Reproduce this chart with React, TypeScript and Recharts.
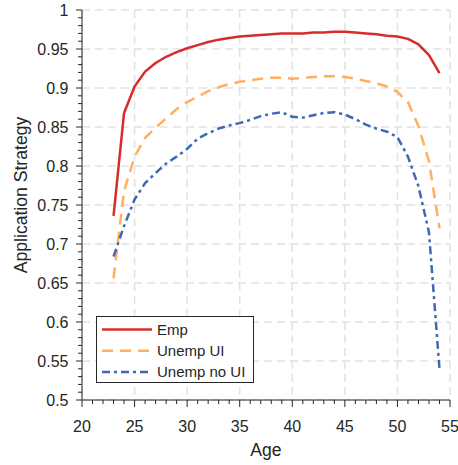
import { CartesianGrid, Legend, Line, LineChart, XAxis, YAxis } from "recharts";

const ages = [
  23, 24, 25, 26, 27, 28, 29, 30, 31, 32, 33, 34, 35, 36, 37, 38, 39, 40, 41, 42, 43, 44, 45, 46, 47, 48,
  49, 50, 51, 52, 53, 54,
];

const empRate = [
  0.736, 0.868, 0.902, 0.921, 0.932, 0.94, 0.946, 0.951, 0.955, 0.959, 0.962, 0.964, 0.966, 0.967, 0.968,
  0.969, 0.97, 0.97, 0.97, 0.971, 0.971, 0.972, 0.972, 0.971, 0.97, 0.969, 0.967, 0.966, 0.963, 0.956,
  0.942, 0.919,
];

const uiRate = [
  0.656, 0.768, 0.812, 0.836, 0.849, 0.861, 0.873, 0.882, 0.889, 0.896, 0.901, 0.905, 0.908, 0.91, 0.912,
  0.913, 0.913, 0.912, 0.913, 0.914, 0.915, 0.915, 0.914, 0.912, 0.909, 0.906, 0.902, 0.895, 0.882, 0.851,
  0.806, 0.72,
];

const noUiRate = [
  0.684, 0.723, 0.757, 0.778, 0.791, 0.803, 0.812, 0.822, 0.835, 0.842, 0.848, 0.852, 0.855, 0.859, 0.864,
  0.867, 0.869, 0.863, 0.862, 0.865, 0.868, 0.869, 0.866, 0.86, 0.853, 0.848, 0.844, 0.837, 0.812, 0.774,
  0.715, 0.54,
];

const xMajorTicks = [20, 25, 30, 35, 40, 45, 50, 55];
const yMajorTicks = [0.5, 0.55, 0.6, 0.65, 0.7, 0.75, 0.8, 0.85, 0.9, 0.95, 1];

// minor ticks every 1 year / every 0.01
const xAllTicks = Array.from({ length: 36 }, (_, i) => 20 + i);
const yAllTicks = Array.from({ length: 51 }, (_, i) => Math.round((0.5 + i * 0.01) * 100) / 100);

const rows = ages.map((age, i) => ({
  age,
  emp: empRate[i],
  ui: uiRate[i],
  noUi: noUiRate[i],
}));

const series = [
  { key: "emp", name: "Emp", color: "#d62d2b", dash: undefined as string | undefined },
  { key: "ui", name: "Unemp UI", color: "#ffaf5f", dash: "11 7" },
  { key: "noUi", name: "Unemp no UI", color: "#3c69b4", dash: "8 4 3 4" },
];

const FONT = '"Liberation Sans", Arial, Helvetica, sans-serif';
const INK = "#262626";

const isMajor = (v: number, step: number) => Math.abs(v / step - Math.round(v / step)) < 1e-6;

function XTick(props: any) {
  const { x, y, payload } = props;
  const major = isMajor(payload.value, 5);
  return (
    <g>
      <line x1={x} x2={x} y1={y} y2={y + (major ? 7 : 4)} stroke={INK} strokeWidth={1} />
      {major && (
        <text x={x} y={y + 31.5} textAnchor="middle" fontSize={16} fontFamily={FONT} fill={INK}>
          {payload.value}
        </text>
      )}
    </g>
  );
}

function YTick(props: any) {
  const { x, y, payload } = props;
  const major = isMajor(payload.value, 0.05);
  return (
    <g>
      <line x1={x - (major ? 6 : 4)} x2={x} y1={y} y2={y} stroke={INK} strokeWidth={1} />
      {major && (
        <text x={x - 13.5} y={y} dy="0.35em" textAnchor="end" fontSize={16} fontFamily={FONT} fill={INK}>
          {String(payload.value)}
        </text>
      )}
    </g>
  );
}

function LegendBox({ payload }: any) {
  const items = (payload ?? []) as any[];
  return (
    <div
      style={{
        boxSizing: "border-box",
        width: 158,
        height: 67,
        border: `1px solid ${INK}`,
        background: "#fff",
      }}
    >
      <svg width={156} height={65} style={{ display: "block" }}>
        {items.map((item, i) => {
          const s = series.find((d) => d.key === item.dataKey) ?? series[i];
          const cy = 12.5 + i * 21.3;
          return (
            <g key={s.key}>
              <line
                x1={5}
                x2={55}
                y1={cy}
                y2={cy}
                stroke={s.color}
                strokeWidth={2.5}
                strokeDasharray={s.dash}
              />
              <text x={60} y={cy} dy="0.35em" fontSize={15} fontFamily={FONT} fill={INK}>
                {item.value}
              </text>
            </g>
          );
        })}
      </svg>
    </div>
  );
}

export default function App() {
  return (
    <div style={{ position: "absolute", left: 0, top: 0, background: "#fff" }}>
      <LineChart width={458} height={465} data={rows} margin={{ top: 10, right: 8, bottom: 0, left: 0 }}>
        <CartesianGrid
          stroke="#e2e2e2"
          strokeWidth={1.5}
          strokeDasharray="8 5"
          verticalValues={xMajorTicks}
          horizontalValues={yMajorTicks}
        />
        <XAxis
          dataKey="age"
          type="number"
          domain={[20, 55]}
          ticks={xAllTicks}
          interval={0}
          tickSize={0}
          tickMargin={0}
          tickLine={false}
          tick={(p: any) => <XTick {...p} />}
          axisLine={{ stroke: INK, strokeWidth: 1 }}
          height={65}
          label={({ viewBox }: any) => (
            <text
              x={viewBox.x + viewBox.width / 2}
              y={455.5}
              textAnchor="middle"
              fontSize={17.6}
              fontFamily={FONT}
              fill={INK}
            >
              Age
            </text>
          )}
        />
        <YAxis
          type="number"
          domain={[0.5, 1]}
          ticks={yAllTicks}
          interval={0}
          tickSize={0}
          tickMargin={0}
          tickLine={false}
          tick={(p: any) => <YTick {...p} />}
          axisLine={{ stroke: INK, strokeWidth: 1 }}
          width={82}
          label={({ viewBox }: any) => {
            const cx = 21;
            const cy = viewBox.y + viewBox.height / 2 - 10;
            return (
              <text
                x={cx}
                y={cy}
                transform={`rotate(-90 ${cx} ${cy})`}
                textAnchor="middle"
                dy="0.35em"
                fontSize={17.6}
                fontFamily={FONT}
                fill={INK}
              >
                Application Strategy
              </text>
            );
          }}
        />
        <Legend
          layout="vertical"
          align="center"
          verticalAlign="middle"
          content={(p: any) => <LegendBox {...p} />}
          wrapperStyle={{ left: 95.5, top: 316, width: 158, height: 67 }}
        />
        {series.map((s) => (
          <Line
            key={s.key}
            dataKey={s.key}
            name={s.name}
            type="linear"
            stroke={s.color}
            strokeWidth={2.5}
            strokeDasharray={s.dash}
            strokeLinejoin="round"
            dot={false}
            activeDot={false}
            isAnimationActive={false}
          />
        ))}
      </LineChart>
    </div>
  );
}
